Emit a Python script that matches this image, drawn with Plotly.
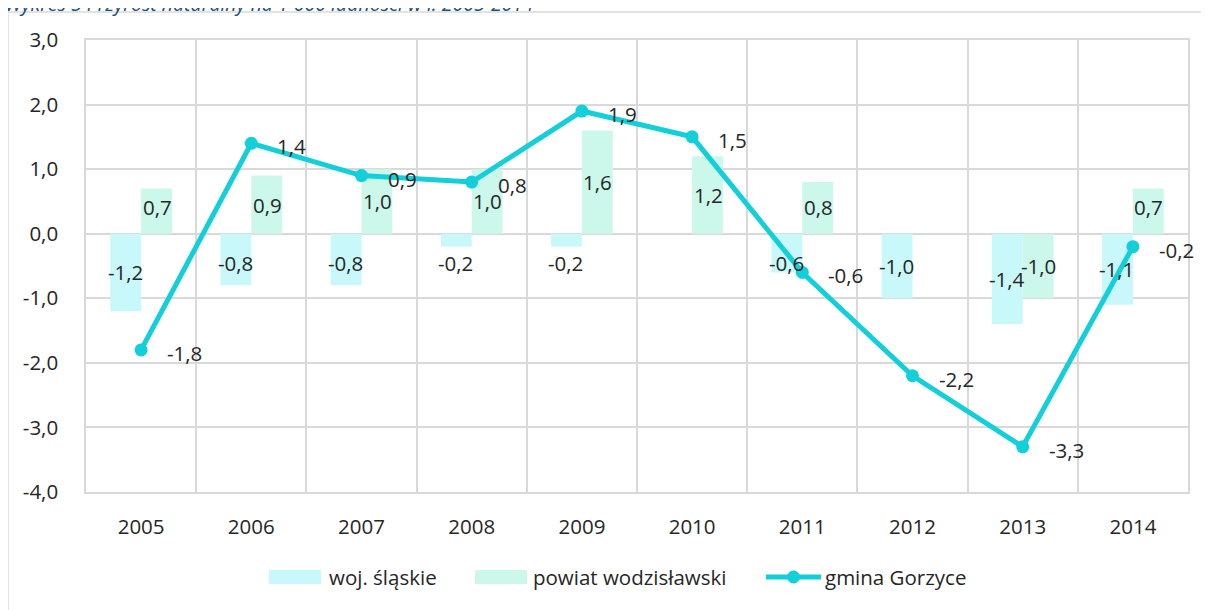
import plotly.graph_objects as go

years = ["2005", "2006", "2007", "2008", "2009", "2010", "2011", "2012", "2013", "2014"]
woj_slaskie = [-1.2, -0.8, -0.8, -0.2, -0.2, None, -0.6, -1.0, -1.4, -1.1]
powiat_wodzislawski = [0.7, 0.9, 1.0, 1.0, 1.6, 1.2, 0.8, None, -1.0, 0.7]
gmina_gorzyce = [-1.8, 1.4, 0.9, 0.8, 1.9, 1.5, -0.6, -2.2, -3.3, -0.2]
y_ticks = [3, 2, 1, 0, -1, -2, -3, -4]
series_names = ["woj. śląskie", "powiat wodzisławski", "gmina Gorzyce"]

title_text = "Wykres 5 Przyrost naturalny na 1 000 ludności w l. 2005-2014"

FONT = "Open Sans"
FS = 20.5
TXT = "#262626"
C_WOJ = "#C9F8FB"
C_POW = "#CBF8EA"
C_LINE = "#12CFD9"
GRID = "#D9D9D9"

# the page shows the figure with an 8 px body offset; page coords below are converted
OFF = 8
W, H = 1209, 610
L, R, T, B = 86 - OFF, 21 + OFF, 40 - OFF, 118 + OFF
pw, ph = W - L - R, H - T - B


def px(x):
    return (x - OFF - L) / pw


def py(y):
    return 1 - (y - OFF - T) / ph


def fmt(v):
    return f"{v:.1f}".replace(".", ",")


fig = go.Figure()
fig.add_trace(go.Bar(x=years, y=woj_slaskie, name=series_names[0], marker=dict(color=C_WOJ, line=dict(width=0))))
fig.add_trace(go.Bar(x=years, y=powiat_wodzislawski, name=series_names[1], marker=dict(color=C_POW, line=dict(width=0))))
fig.add_trace(go.Scatter(x=years, y=gmina_gorzyce, name=series_names[2], mode="lines+markers",
                         line=dict(color=C_LINE, width=5), marker=dict(color=C_LINE, size=13)))


def lab_y(v):
    h = v / 2
    if v < 0:
        return min(h, -0.45)
    return max(h, 0.42)


lab_font = dict(family=FONT, size=FS, color=TXT)
ann = []
for i, v in enumerate(woj_slaskie):
    if v is None:
        continue
    ann.append(dict(x=i, y=lab_y(v), text=fmt(v), xshift=-16, showarrow=False,
                    font=lab_font, xanchor="center", yanchor="middle"))
for i, v in enumerate(powiat_wodzislawski):
    if v is None:
        continue
    ann.append(dict(x=i, y=lab_y(v), text=fmt(v), xshift=16, showarrow=False,
                    font=lab_font, xanchor="center", yanchor="middle"))
for i, v in enumerate(gmina_gorzyce):
    ann.append(dict(x=i, y=v, text=fmt(v), xshift=24, yshift=-3, showarrow=False,
                    font=lab_font, xanchor="left", yanchor="middle"))

# title, partly cut off at the top of the page
ann.append(dict(xref="paper", yref="paper", x=px(3), y=py(3), xanchor="left", yanchor="middle",
                text="<i>" + title_text + "</i>", showarrow=False,
                font=dict(family=FONT, size=19.5, color="#1F4E79")))

# custom legend (wide swatches as in the reference)
leg_y = 577
ann.append(dict(xref="paper", yref="paper", x=px(327), y=py(leg_y), xanchor="left", yanchor="middle",
                text=series_names[0], showarrow=False, font=lab_font))
ann.append(dict(xref="paper", yref="paper", x=px(531), y=py(leg_y), xanchor="left", yanchor="middle",
                text=series_names[1], showarrow=False, font=lab_font))
ann.append(dict(xref="paper", yref="paper", x=px(823), y=py(leg_y), xanchor="left", yanchor="middle",
                text=series_names[2], showarrow=False, font=lab_font))

shapes = [
    dict(type="rect", xref="paper", yref="paper", x0=px(8), x1=1.2, y0=-0.5, y1=py(12),
         line=dict(color=GRID, width=1.5), fillcolor="rgba(0,0,0,0)", layer="below"),
    dict(type="rect", xref="paper", yref="paper", x0=px(269), x1=px(321), y0=py(584), y1=py(570),
         line=dict(width=0), fillcolor=C_WOJ),
    dict(type="rect", xref="paper", yref="paper", x0=px(475), x1=px(527), y0=py(584), y1=py(570),
         line=dict(width=0), fillcolor=C_POW),
    dict(type="line", xref="paper", yref="paper", x0=px(766), x1=px(821), y0=py(leg_y), y1=py(leg_y),
         line=dict(color=C_LINE, width=5)),
    dict(type="circle", xref="paper", yref="paper", x0=px(787), x1=px(800), y0=py(leg_y + 6.5),
         y1=py(leg_y - 6.5), line=dict(width=0), fillcolor=C_LINE),
]

fig.update_layout(
    width=W, height=H,
    margin=dict(l=L, r=R, t=T, b=B, autoexpand=False),
    paper_bgcolor="white", plot_bgcolor="white",
    barmode="group", bargap=0.44, bargroupgap=0,
    font=dict(family=FONT, size=FS, color=TXT),
    showlegend=False,
    annotations=ann,
    shapes=shapes,
    xaxis=dict(type="category", range=[-0.5, 9.5], tickson="boundaries", showgrid=True, automargin=False,
               gridcolor=GRID, gridwidth=1.5, showline=True, linecolor=GRID, linewidth=1.5,
               mirror=True, ticks="", ticklabelstandoff=16, tickfont=dict(family=FONT, size=FS, color=TXT)),
    yaxis=dict(range=[-4, 3], tickvals=y_ticks, ticktext=[fmt(v) for v in y_ticks], showgrid=True,
               gridcolor=GRID, automargin=False,
               gridwidth=1.5, zeroline=False, showline=True, linecolor=GRID, linewidth=1.5, mirror=True,
               ticks="", ticklabelstandoff=22, tickfont=dict(family=FONT, size=FS, color=TXT)),
)

fig.write_html("out.html")
